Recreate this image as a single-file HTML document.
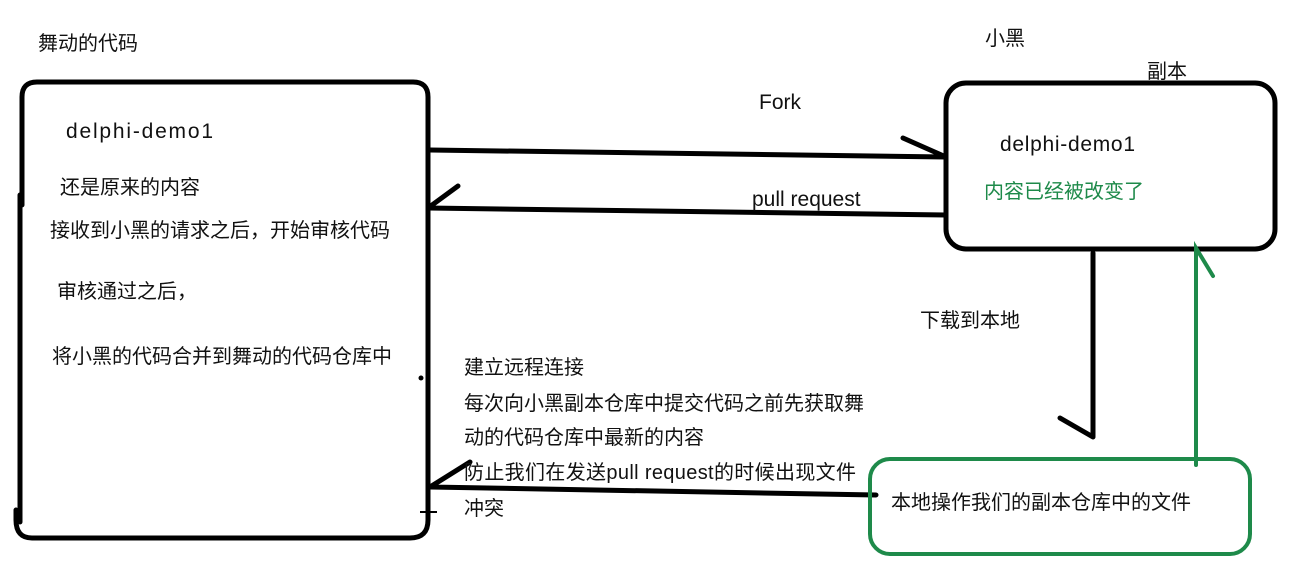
<!DOCTYPE html>
<html><head><meta charset="utf-8"><style>
body{margin:0;background:#fff}
text{font-family:"Liberation Sans","Noto Sans CJK SC",sans-serif;font-size:20px;fill:#111}
.l{font-size:21px}
</style></head><body>
<svg width="1290" height="575" xmlns="http://www.w3.org/2000/svg">
<g fill="none" stroke="#000" stroke-width="5" stroke-linecap="round">
<path d="M22,205 V97 Q22,82 37,82 H413 Q428,82 428,97 V520 Q428,538 410,538 H32 Q16,538 16,520 V510"/>
<path d="M20,195 V522"/>
<rect x="946" y="83" width="329" height="166" rx="20"/>
<path d="M430,150 L946,157 M903,138 L946,157"/>
<path d="M428,208 L946,215 M458,186 L428,208"/>
<path d="M430,487 L876,495 M470,462 L430,487"/>
<path d="M1093,253 V437 M1060,418 L1093,437"/>
</g>
<path d="M420,512 H437" stroke="#000" stroke-width="2"/>
<circle cx="421" cy="378" r="2.5" fill="#000"/>
<g fill="none" stroke="#1e8a4a" stroke-width="4" stroke-linecap="round">
<rect x="870" y="459" width="380" height="95" rx="20"/>
<path d="M1196,465 V248 L1213,276"/>
</g>
<text x="38" y="50">舞动的代码</text>
<text x="985" y="45">小黑</text>
<text x="1147" y="78">副本</text>
<text class="l" x="66" y="138" textLength="147">delphi-demo1</text>
<text x="60" y="194">还是原来的内容</text>
<text x="50" y="237">接收到小黑的请求之后，开始审核代码</text>
<text x="57" y="298">审核通过之后，</text>
<text x="52" y="363">将小黑的代码合并到舞动的代码仓库中</text>
<text class="l" x="759" y="109">Fork</text>
<text class="l" x="752" y="206">pull request</text>
<text class="l" x="1000" y="151" textLength="135">delphi-demo1</text>
<text x="984" y="198" style="fill:#1e8a4a">内容已经被改变了</text>
<text x="920" y="327">下载到本地</text>
<text x="464" y="374">建立远程连接</text>
<text x="464" y="410">每次向小黑副本仓库中提交代码之前先获取舞</text>
<text x="464" y="444">动的代码仓库中最新的内容</text>
<text x="464" y="479" textLength="392">防止我们在发送pull request的时候出现文件</text>
<text x="464" y="515">冲突</text>
<text x="891" y="509">本地操作我们的副本仓库中的文件</text>
</svg>
</body></html>
